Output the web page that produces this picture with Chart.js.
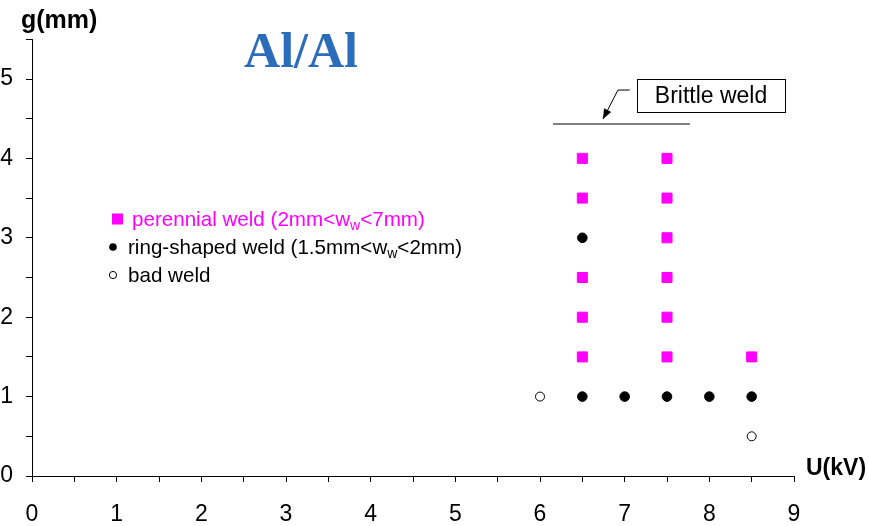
<!DOCTYPE html>
<html>
<head>
<meta charset="utf-8">
<script src="https://cdn.jsdelivr.net/npm/chart.js@4.4.1/dist/chart.umd.min.js"></script>
<style>
html,body{margin:0;padding:0;background:#fff;}
#wrap{width:869px;height:526px;}
</style>
</head>
<body>
<div id="wrap"><canvas id="c" width="869" height="526"></canvas></div>
<script>
// ---- data ----
const perennialX = [6.5, 6.5, 6.5, 6.5, 6.5, 7.5, 7.5, 7.5, 7.5, 7.5, 7.5, 8.5];
const perennialY = [1.5, 2, 2.5, 3.5, 4, 1.5, 2, 2.5, 3, 3.5, 4, 1.5];
const ringX = [6.5, 6.5, 7, 7.5, 8, 8.5];
const ringY = [3, 1, 1, 1, 1, 1];
const badX = [6, 8.5];
const badY = [1, 0.5];
const xTickValues = [0, 1, 2, 3, 4, 5, 6, 7, 8, 9];
const yTickValues = [0, 1, 2, 3, 4, 5];
const chartTitle = 'Al/Al';
const xAxisTitle = 'U(kV)';
const yAxisTitle = 'g(mm)';
const annotationText = 'Brittle weld';
// legend labels: segments [text, isSubscript]
const legendPerennial = [['perennial weld (2mm<w', false], ['w', true], ['<7mm)', false]];
const legendRing = [['ring-shaped weld (1.5mm<w', false], ['w', true], ['<2mm)', false]];
const legendBad = [['bad weld', false]];

const toPts = (xs, ys) => xs.map((x, i) => ({x: x, y: ys[i]}));

const FONT = '"Liberation Sans", Arial, sans-serif';

const decorPlugin = {
  id: 'decor',
  afterDraw(chart) {
    const ctx = chart.ctx;
    const xs = chart.scales.x, ys = chart.scales.y;
    const px = v => xs.getPixelForValue(v);
    const py = v => ys.getPixelForValue(v);
    ctx.save();
    // title
    ctx.fillStyle = '#2b6cbb';
    ctx.font = 'bold 50px "Liberation Serif", "Times New Roman", serif';
    ctx.textAlign = 'center';
    ctx.textBaseline = 'alphabetic';
    ctx.fillText(chartTitle, 301, 67);
    // axis titles
    ctx.fillStyle = '#000';
    ctx.textAlign = 'left';
    ctx.font = 'bold 25px ' + FONT;
    ctx.fillText(yAxisTitle, 21, 28);
    ctx.font = 'bold 23px ' + FONT;
    ctx.fillText(xAxisTitle, 806, 475);

    // legend
    const rows = [
      {segs: legendPerennial, color: '#ff00ff', marker: 'square'},
      {segs: legendRing, color: '#000', marker: 'dot'},
      {segs: legendBad, color: '#000', marker: 'ring'}
    ];
    rows.forEach((r, i) => {
      const base = 226 + i * 28;
      const cy = base - 7;
      ctx.fillStyle = r.color;
      ctx.strokeStyle = '#000';
      ctx.lineWidth = 1;
      let tx;
      if (r.marker === 'square') {
        ctx.fillRect(112, cy - 5.5, 11, 11);
        tx = 132;
      } else if (r.marker === 'dot') {
        ctx.beginPath(); ctx.arc(113, cy, 3.8, 0, Math.PI * 2); ctx.fill();
        tx = 128;
      } else {
        ctx.beginPath(); ctx.arc(113, cy, 3.6, 0, Math.PI * 2); ctx.stroke();
        tx = 128;
      }
      ctx.fillStyle = r.color;
      ctx.textAlign = 'left';
      r.segs.forEach(s => {
        if (s[1]) {
          ctx.font = '14px ' + FONT;
          ctx.fillText(s[0], tx, base + 4);
        } else {
          ctx.font = '20.6px ' + FONT;
          ctx.fillText(s[0], tx, base);
        }
        tx += ctx.measureText(s[0]).width;
      });
    });

    // brittle weld annotation
    ctx.strokeStyle = '#808080';
    ctx.lineWidth = 2;
    ctx.beginPath();
    ctx.moveTo(px(6.153), py(4.433));
    ctx.lineTo(px(7.772), py(4.433));
    ctx.stroke();

    const bx0 = px(7.146), bx1 = px(8.894), by0 = py(5.0), by1 = py(4.584);
    ctx.strokeStyle = '#000';
    ctx.lineWidth = 1;
    ctx.strokeRect(Math.round(bx0) + 0.5, Math.round(by0) + 0.5, Math.round(bx1 - bx0), Math.round(by1 - by0));
    ctx.fillStyle = '#000';
    ctx.font = '23px ' + FONT;
    ctx.textAlign = 'center';
    ctx.textBaseline = 'middle';
    ctx.fillText(annotationText, (bx0 + bx1) / 2, (by0 + by1) / 2 + 1);

    // arrow
    const sx = px(7.06), sy = py(4.861);
    const mx = px(6.921), my = py(4.861);
    const tx2 = px(6.744), ty2 = py(4.496);
    ctx.beginPath();
    ctx.moveTo(sx, sy); ctx.lineTo(mx, my); ctx.lineTo(tx2, ty2);
    ctx.stroke();
    const ang = Math.atan2(ty2 - my, tx2 - mx);
    const L = 10, W = 4;
    ctx.beginPath();
    ctx.moveTo(tx2, ty2);
    ctx.lineTo(tx2 - L * Math.cos(ang) + W * Math.sin(ang), ty2 - L * Math.sin(ang) - W * Math.cos(ang));
    ctx.lineTo(tx2 - L * Math.cos(ang) - W * Math.sin(ang), ty2 - L * Math.sin(ang) + W * Math.cos(ang));
    ctx.closePath();
    ctx.fill();
    ctx.restore();
  }
};

const intLabel = (list) => function (v) {
  return list.includes(v) ? String(v) : '';
};

new Chart(document.getElementById('c'), {
  type: 'scatter',
  data: {
    datasets: [
      {label: 'perennial', data: toPts(perennialX, perennialY), pointStyle: 'rect',
       backgroundColor: '#ff00ff', borderColor: '#ff00ff', borderWidth: 1, pointRadius: 7.1, pointHoverRadius: 7.1},
      {label: 'ring', data: toPts(ringX, ringY), pointStyle: 'circle',
       backgroundColor: '#000', borderColor: '#000', borderWidth: 1, pointRadius: 4.8, pointHoverRadius: 4.8},
      {label: 'bad', data: toPts(badX, badY), pointStyle: 'circle',
       backgroundColor: '#fff', borderColor: '#000', borderWidth: 1, pointRadius: 4.5, pointHoverRadius: 4.5}
    ]
  },
  options: {
    responsive: false,
    animation: false,
    devicePixelRatio: 1,
    layout: {padding: {top: 39.3, right: 75, left: 0, bottom: 0}},
    plugins: {legend: {display: false}, tooltip: {enabled: false}, title: {display: false}},
    scales: {
      x: {
        type: 'linear', min: 0, max: 9,
        grid: {drawOnChartArea: false, color: '#000', tickLength: 6, tickColor: '#000'},
        border: {color: '#000', width: 1},
        ticks: {stepSize: 0.5, autoSkip: false, maxRotation: 0, color: '#000', padding: 19,
                font: {size: 23, family: FONT}, callback: intLabel(xTickValues)},
        afterFit(s) { s.height = 50; s.paddingLeft = 0; s.paddingRight = 0; }
      },
      y: {
        type: 'linear', min: 0, max: 5.5,
        grid: {drawOnChartArea: false, color: '#000', tickLength: 6, tickColor: '#000'},
        border: {color: '#000', width: 1},
        ticks: {stepSize: 0.5, autoSkip: false, color: '#000', padding: 13,
                font: {size: 23, family: FONT}, callback: intLabel(yTickValues)},
        afterFit(s) { s.width = 32; s.paddingTop = 0; s.paddingBottom = 0; }
      }
    }
  },
  plugins: [decorPlugin]
});
</script>
</body>
</html>
